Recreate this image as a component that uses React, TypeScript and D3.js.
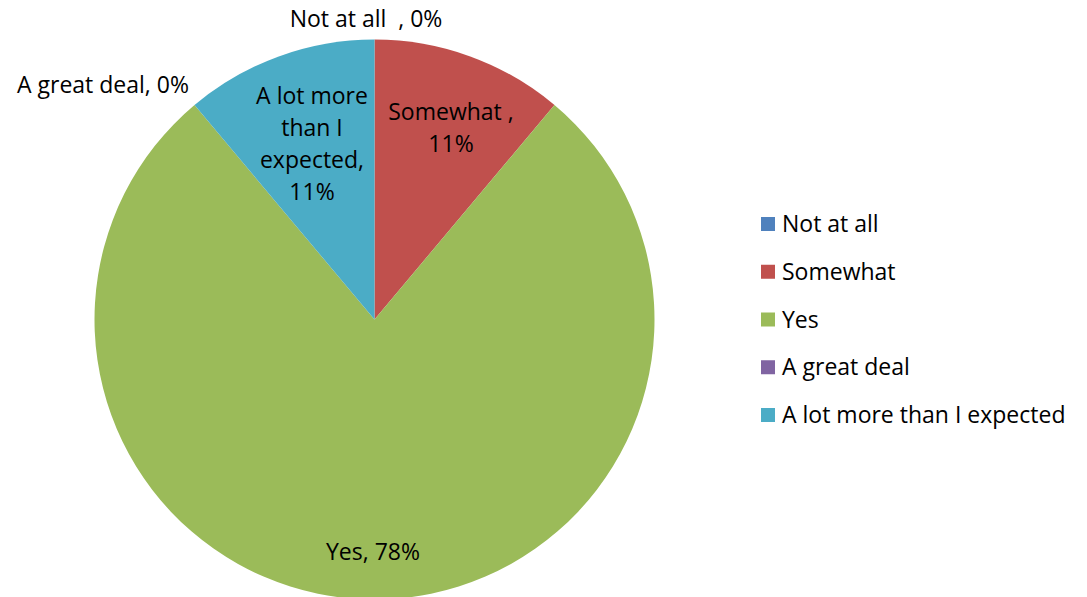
import React from "react";
import * as d3 from "d3";

const categories = ["Not at all", "Somewhat", "Yes", "A great deal", "A lot more than I expected"];
const values = [0, 1, 7, 0, 1];
const colors = ["#4F81BD", "#C0504D", "#9BBB59", "#8064A2", "#4BACC6"];
const labelLines = [
  ["Not at all  , 0%"],
  ["Somewhat ,", "11%"],
  ["Yes, 78%"],
  ["A great deal, 0%"],
  ["A lot more", "than I", "expected,", "11%"],
];
// label anchor positions (centers) in px
const labelPos: [number, number][] = [
  [366, 19],
  [451, 128],
  [373, 552],
  [103, 85],
  [312, 144],
];

const W = 1087;
const H = 597;
const FONT = "'Open Sans', Lato, sans-serif";
const FS = 23;

export default function App() {
  const cx = 374.5;
  const cy = 319.5;
  const r = 280;
  const pie = d3.pie<number>().sort(null).value((d) => d)(values);
  const arc = d3.arc<d3.PieArcDatum<number>>().innerRadius(0).outerRadius(r);
  const lineH = 32;
  const legendY = d3.scalePoint<string>().domain(categories).range([224, 415]);

  return (
    <svg width={W} height={H} style={{ position: "absolute", left: 0, top: 0, background: "#fff" }}>
      <g transform={`translate(${cx},${cy})`}>
        {pie.map((p, i) => (
          <path key={i} d={arc(p) || ""} fill={colors[i]} />
        ))}
      </g>
      {labelLines.map((lines, i) => {
        const [x, y] = labelPos[i];
        const y0 = y - ((lines.length - 1) * lineH) / 2;
        return (
          <text key={i} x={x} textAnchor="middle" fontFamily={FONT} fontSize={FS} fill="#000">
            {lines.map((l, j) => (
              <tspan key={j} x={x} y={y0 + j * lineH} dy="0.35em" style={{ whiteSpace: "pre" }}>
                {l}
              </tspan>
            ))}
          </text>
        );
      })}
      {categories.map((c, i) => {
        const y = legendY(c) as number;
        return (
          <g key={c}>
            <rect x={761} y={y - 7} width={14} height={14} fill={colors[i]} />
            <text x={782} y={y} dy="0.35em" fontFamily={FONT} fontSize={FS} fill="#000">
              {c}
            </text>
          </g>
        );
      })}
    </svg>
  );
}
